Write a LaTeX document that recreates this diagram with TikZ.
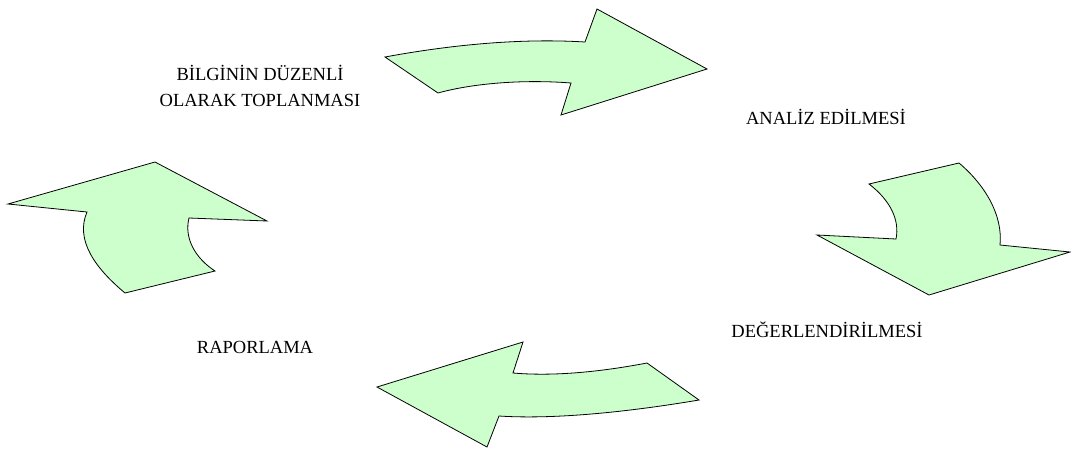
\documentclass[tikz,border=0pt]{standalone}
\usepackage{fontspec}
\setmainfont{Liberation Serif}
\begin{document}
\begin{tikzpicture}[x=1pt,y=-1pt,
  arrowshape/.style={draw=black,line width=0.8pt,fill=green!20,line join=miter},
  lbl/.style={inner sep=0pt,anchor=base,align=center,font=\fontsize{18.5}{26}\selectfont}]
\useasboundingbox (0,0) rectangle (1071,448);
% top arrow (to the right)
\path[arrowshape] (385,57) .. controls (450,45) and (520,38) .. (585,42)
  -- (597,9) -- (707,69) -- (561,115) -- (571,83)
  .. controls (520,79) and (470,84) .. (438,93) -- cycle;
% right arrow (down)
\path[arrowshape] (869,184) -- (959,163)
  .. controls (985,185) and (1003,215) .. (1000,245)
  -- (1070,252) -- (929,295) -- (817,235) -- (896,239)
  .. controls (900,220) and (890,200) .. (869,184) -- cycle;
% bottom arrow (to the left)
\path[arrowshape] (377,387) -- (523,342) -- (513,373)
  .. controls (560,377) and (610,370) .. (647,363)
  -- (699,400)
  .. controls (640,410) and (560,420) .. (499,416)
  -- (487,447) -- cycle;
% left arrow (up)
\path[arrowshape] (8,204) -- (155,162) -- (267,221) -- (189,218)
  .. controls (184,238) and (195,258) .. (215,271)
  -- (125,293)
  .. controls (95,268) and (75,240) .. (87,212) -- cycle;
% labels
\node[lbl] (bilgi) at (260,106) {BİLGİNİN DÜZENLİ\\OLARAK TOPLANMASI};
\node[lbl] (analiz) at (826,124) {ANALİZ EDİLMESİ};
\node[lbl] (deger) at (827,337) {DEĞERLENDİRİLMESİ};
\node[lbl] (rapor) at (255,353) {RAPORLAMA};
\end{tikzpicture}
\end{document}
